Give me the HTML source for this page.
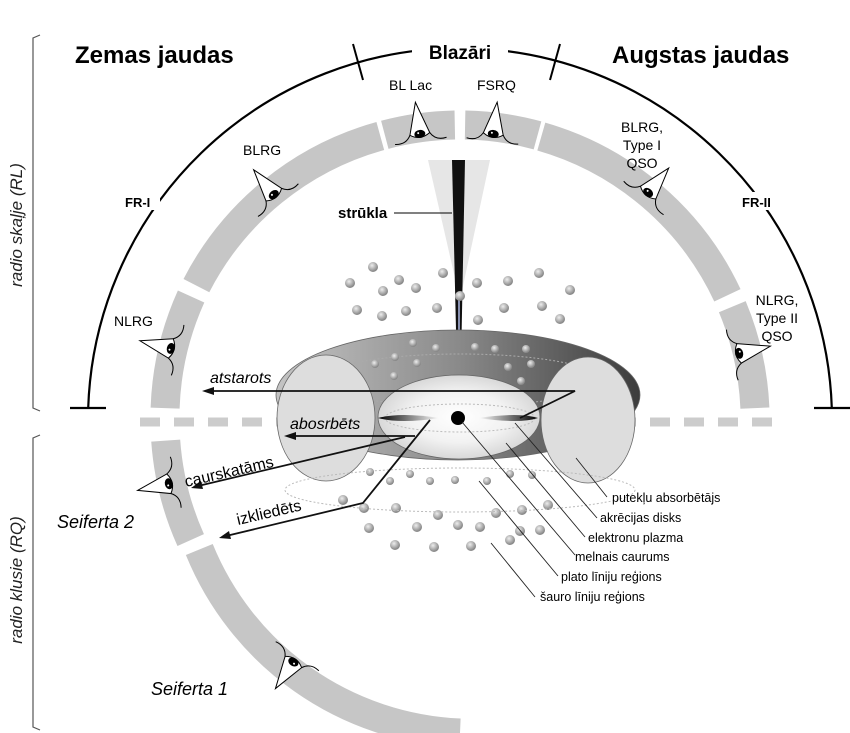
<!DOCTYPE html>
<html><head><meta charset="utf-8"><style>
html,body{margin:0;padding:0;background:#fff;}
svg{display:block;font-family:"Liberation Sans","DejaVu Sans",sans-serif;}
</style></head><body>
<svg width="850" height="733" viewBox="0 0 850 733" xmlns="http://www.w3.org/2000/svg">
<defs>
<radialGradient id="glow" cx="50%" cy="50%" r="50%"><stop offset="0" stop-color="#fff"/><stop offset="0.6" stop-color="#f2f2f2"/><stop offset="1" stop-color="#d8d8d8"/></radialGradient>
<linearGradient id="torusTop" x1="0" y1="0" x2="1" y2="0"><stop offset="0" stop-color="#c4c4c4"/><stop offset="0.5" stop-color="#8a8a8a"/><stop offset="1" stop-color="#3c3c3c"/></linearGradient>
<linearGradient id="diskL" x1="0" y1="0" x2="1" y2="0"><stop offset="0" stop-color="#000"/><stop offset="1" stop-color="#fff"/></linearGradient>
<linearGradient id="diskR" x1="0" y1="0" x2="1" y2="0"><stop offset="0" stop-color="#fff"/><stop offset="1" stop-color="#000"/></linearGradient>
<radialGradient id="dot" cx="40%" cy="35%" r="60%"><stop offset="0" stop-color="#eee"/><stop offset="1" stop-color="#888"/></radialGradient>
<g id="eye">
<path d="M-26,0 L6,-10 Q13,0 6,10 Z" fill="#fff" stroke="#000" stroke-width="1"/>
<path d="M6,-10 Q15,-15 13,-26" fill="none" stroke="#000" stroke-width="1"/>
<path d="M6,10 Q15,15 13,26" fill="none" stroke="#000" stroke-width="1"/>
<ellipse cx="6" cy="0" rx="4" ry="5.5" fill="#000"/>
<circle cx="5" cy="1.5" r="1" fill="#fff"/>
</g>
</defs>

<!-- brackets -->
<path d="M40,35 L33,38 L33,408 L40,411" fill="none" stroke="#555" stroke-width="1.2"/>
<path d="M40,435 L33,438 L33,727 L40,730" fill="none" stroke="#555" stroke-width="1.2"/>
<text transform="translate(22,225) rotate(-90)" text-anchor="middle" font-size="17" font-style="italic" fill="#222">radio skaļje (RL)</text>
<text transform="translate(22,580) rotate(-90)" text-anchor="middle" font-size="17" font-style="italic" fill="#222">radio klusie (RQ)</text>

<!-- outer black arc -->
<path d="M88.2,408 A372,372 0 0 1 831.8,408" fill="none" stroke="#000" stroke-width="2.2"/>
<line x1="70" y1="408" x2="106" y2="408" stroke="#000" stroke-width="2.2"/>
<line x1="814" y1="408" x2="850" y2="408" stroke="#000" stroke-width="2.2"/>
<line x1="353" y1="44" x2="363" y2="80" stroke="#000" stroke-width="2"/>
<line x1="560" y1="44" x2="550" y2="80" stroke="#000" stroke-width="2"/>
<rect x="412" y="40" width="96" height="24" fill="#fff"/>
<text x="460" y="59" text-anchor="middle" font-size="19" font-weight="bold">Blazāri</text>
<text x="75" y="63" font-size="24" font-weight="bold">Zemas jaudas</text>
<text x="612" y="63" font-size="24" font-weight="bold">Augstas jaudas</text>
<rect x="118" y="192" width="42" height="18" fill="#fff"/>
<text x="125" y="207" font-size="13" font-weight="bold">FR-I</text>
<rect x="738" y="192" width="52" height="18" fill="#fff"/>
<text x="742" y="207" font-size="13" font-weight="bold">FR-II</text>

<!-- gray band segments -->
<g fill="none" stroke="#c6c6c6" stroke-width="29">
<path d="M165.1,408.1 A295,295 0 0 1 191.1,296.5"/>
<path d="M196.4,285.6 A295,295 0 0 1 380.3,136.0"/>
<path d="M384.8,134.8 A295,295 0 0 1 454.8,125.0"/>
<path d="M465.1,125.0 A295,295 0 0 1 537.5,135.4"/>
<path d="M541.3,136.6 A295,295 0 0 1 727.4,295.3"/>
<path d="M732.3,306.7 A295,295 0 0 1 754.9,408.1"/>
<path d="M165.7,440.6 A295,295 0 0 0 190.7,540.1"/>
<path d="M199.3,549.5 A295,295 0 0 0 460,733"/>
</g>

<!-- dashed horizontal -->
<line x1="140" y1="422" x2="780" y2="422" stroke="#ccc" stroke-width="9" stroke-dasharray="20,14"/>

<!-- eyes -->
<use href="#eye" transform="translate(165,347) rotate(14)"/>
<use href="#eye" transform="translate(270,190) rotate(51)"/>
<use href="#eye" transform="translate(419,128) rotate(82)"/>
<use href="#eye" transform="translate(494,128) rotate(97)"/>
<use href="#eye" transform="translate(652,188) rotate(130)"/>
<use href="#eye" transform="translate(745,352) rotate(167)"/>
<use href="#eye" transform="translate(163,485) rotate(-12)"/>
<use href="#eye" transform="translate(290,667) rotate(-56)"/>

<!-- labels around -->
<text x="389" y="90" font-size="14">BL Lac</text>
<text x="477" y="90" font-size="14">FSRQ</text>
<text x="243" y="155" font-size="14">BLRG</text>
<text x="642" y="132" font-size="14" text-anchor="middle">BLRG,</text>
<text x="642" y="150" font-size="14" text-anchor="middle">Type I</text>
<text x="642" y="168" font-size="14" text-anchor="middle">QSO</text>
<text x="114" y="326" font-size="14">NLRG</text>
<text x="777" y="305" font-size="14" text-anchor="middle">NLRG,</text>
<text x="777" y="323" font-size="14" text-anchor="middle">Type II</text>
<text x="777" y="341" font-size="14" text-anchor="middle">QSO</text>
<text x="57" y="528" font-size="18" font-style="italic">Seiferta 2</text>
<text x="151" y="695" font-size="18" font-style="italic">Seiferta 1</text>

<!-- jet -->
<polygon points="428,160 490,160 460,300" fill="#e6e6e6"/>
<polygon points="452,160 465,160 460,415 458,415" fill="#111"/>
<line x1="459" y1="300" x2="459" y2="415" stroke="#8890b0" stroke-width="2"/>
<text x="338" y="218" font-size="15" font-weight="bold">strūkla</text>
<line x1="394" y1="213" x2="452" y2="213" stroke="#000" stroke-width="1"/>

<!-- torus -->
<ellipse cx="458" cy="395" rx="182" ry="65" fill="url(#torusTop)" stroke="#666" stroke-width="0.8"/>
<ellipse cx="460" cy="380" rx="140" ry="26" fill="none" stroke="#aaa" stroke-dasharray="2,2"/>
<ellipse cx="326" cy="418" rx="49" ry="63" fill="#ddd" stroke="#666" stroke-width="0.8"/>
<ellipse cx="588" cy="420" rx="47" ry="63" fill="#ddd" stroke="#666" stroke-width="0.8"/>
<ellipse cx="459" cy="417" rx="81" ry="42" fill="url(#glow)" stroke="#666" stroke-width="0.8"/>
<ellipse cx="460" cy="418" rx="75" ry="14" fill="none" stroke="#bbb" stroke-dasharray="2,2"/>
<path d="M378,418 Q400,412 440,418 Q400,424 378,418Z" fill="url(#diskL)"/>
<path d="M478,418 Q520,412 538,418 Q520,424 478,418Z" fill="url(#diskR)"/>
<circle cx="458" cy="418" r="7" fill="#000"/>

<!-- dots -->
<g fill="url(#dot)">
<circle cx="373" cy="267" r="5"/><circle cx="350" cy="283" r="5"/><circle cx="383" cy="291" r="5"/><circle cx="399" cy="280" r="5"/><circle cx="416" cy="288" r="5"/>
<circle cx="357" cy="310" r="5"/><circle cx="382" cy="316" r="5"/><circle cx="406" cy="311" r="5"/><circle cx="437" cy="308" r="5"/><circle cx="443" cy="273" r="5"/>
<circle cx="477" cy="283" r="5"/><circle cx="508" cy="281" r="5"/><circle cx="539" cy="273" r="5"/><circle cx="570" cy="290" r="5"/><circle cx="478" cy="320" r="5"/>
<circle cx="504" cy="308" r="5"/><circle cx="542" cy="306" r="5"/><circle cx="560" cy="319" r="5"/><circle cx="460" cy="296" r="5"/>
<circle cx="413" cy="343" r="4"/><circle cx="436" cy="348" r="4"/><circle cx="395" cy="357" r="4"/><circle cx="417" cy="363" r="4"/><circle cx="375" cy="364" r="4"/><circle cx="394" cy="376" r="4"/>
<circle cx="475" cy="347" r="4"/><circle cx="495" cy="349" r="4"/><circle cx="526" cy="349" r="4"/><circle cx="508" cy="367" r="4"/><circle cx="531" cy="364" r="4"/><circle cx="521" cy="381" r="4"/>
<circle cx="370" cy="472" r="4"/><circle cx="390" cy="481" r="4"/><circle cx="410" cy="474" r="4"/><circle cx="430" cy="481" r="4"/><circle cx="455" cy="480" r="4"/><circle cx="487" cy="481" r="4"/><circle cx="510" cy="474" r="4"/><circle cx="532" cy="475" r="4"/>
<circle cx="343" cy="500" r="5"/><circle cx="364" cy="508" r="5"/><circle cx="396" cy="508" r="5"/><circle cx="438" cy="515" r="5"/><circle cx="496" cy="513" r="5"/><circle cx="522" cy="510" r="5"/><circle cx="548" cy="505" r="5"/>
<circle cx="369" cy="528" r="5"/><circle cx="417" cy="527" r="5"/><circle cx="458" cy="525" r="5"/><circle cx="480" cy="527" r="5"/><circle cx="520" cy="531" r="5"/><circle cx="540" cy="530" r="5"/>
<circle cx="395" cy="545" r="5"/><circle cx="434" cy="547" r="5"/><circle cx="471" cy="546" r="5"/><circle cx="510" cy="540" r="5"/>
</g>
<ellipse cx="460" cy="490" rx="175" ry="22" fill="none" stroke="#bbb" stroke-dasharray="2,2"/>

<!-- arrows -->
<g stroke="#111" stroke-width="1.8" fill="none">
<polyline points="520,418 575,391 210,391"/>
<line x1="415" y1="436" x2="292" y2="436"/>
<line x1="405" y1="437" x2="198" y2="486"/>
<polyline points="430,420 363,503 226,536"/>
</g>
<g fill="#111">
<polygon points="202,391 214,387 214,395"/>
<polygon points="284,436 296,432 296,440"/>
<polygon points="191,488 201,481 203,489"/>
<polygon points="219,538 229,531 231,539"/>
</g>
<text x="210" y="383" font-size="16" font-style="italic">atstarots</text>
<text x="290" y="429" font-size="16" font-style="italic">abosrbēts</text>
<text transform="translate(186,487) rotate(-13)" font-size="16">caurskatāms</text>
<text transform="translate(238,525) rotate(-13)" font-size="16">izkliedēts</text>

<!-- right labels -->
<g stroke="#222" stroke-width="0.9">
<line x1="576" y1="458" x2="607" y2="497"/>
<line x1="515" y1="423" x2="597" y2="518"/>
<line x1="506" y1="443" x2="585" y2="537"/>
<line x1="462" y1="422" x2="575" y2="555"/>
<line x1="479" y1="481" x2="558" y2="576"/>
<line x1="491" y1="543" x2="535" y2="597"/>
</g>
<g font-size="12.5">
<text x="612" y="502">putekļu absorbētājs</text>
<text x="600" y="522">akrēcijas disks</text>
<text x="588" y="542">elektronu plazma</text>
<text x="575" y="561">melnais caurums</text>
<text x="561" y="581">plato līniju reģions</text>
<text x="540" y="601">šauro līniju reģions</text>
</g>
</svg>
</body></html>
